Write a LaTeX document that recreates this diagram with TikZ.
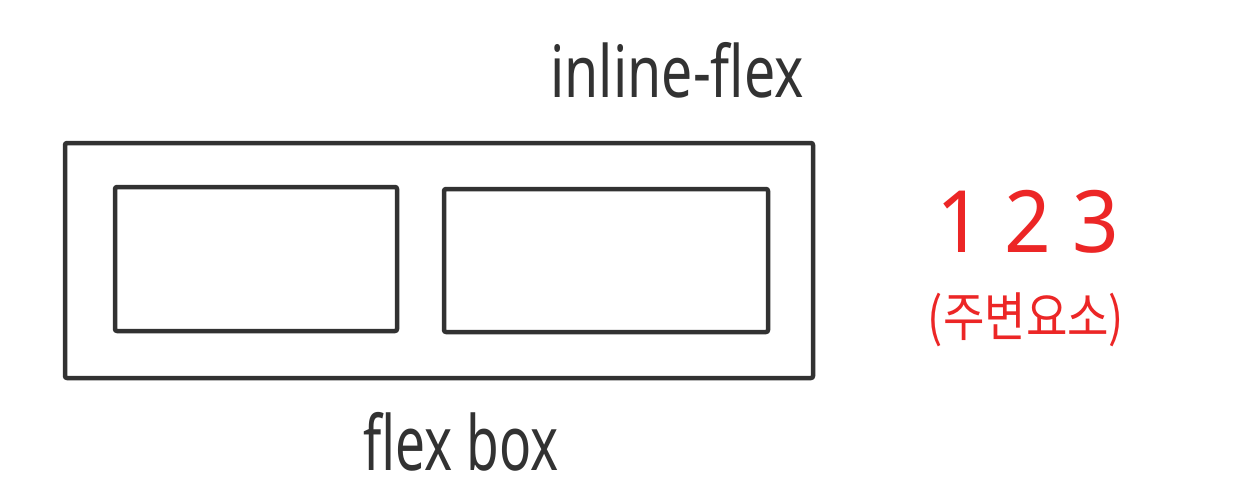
\documentclass[tikz,border=0pt]{standalone}
\usepackage{fontspec}
\usepackage{graphicx}
\setmainfont{Noto Sans}
\newfontfamily\krfont{Noto Sans CJK KR}
\definecolor{pencil}{RGB}{50,50,50}
\definecolor{redpen}{RGB}{236,38,38}
\tikzset{
  boxline/.style={draw=pencil, line width=4.5pt, line join=round, rounded corners=2pt},
  handtext/.style={text=pencil, inner sep=0pt},
  redtext/.style={text=redpen, inner sep=0pt}
}
\begin{document}
\begin{tikzpicture}[x=1pt,y=-1pt]
\useasboundingbox (0,0) rectangle (1252,501);
\fill[white] (0,0) rectangle (1252,501);
\draw[boxline] (65,143) rectangle (813,378);
\draw[boxline] (115,187) rectangle (397,331);
\draw[boxline] (444,189) rectangle (768,332);
\node[handtext] (inl) at (677,70) {\scalebox{0.77}[1]{\fontsize{72}{80}\selectfont inline-flex}};
\node[handtext] (fb) at (461,442) {\scalebox{0.7}[1]{\fontsize{76}{84}\selectfont flex box}};
\node[redtext] (nums) at (1028,222) {\scalebox{0.95}[1]{\fontsize{86}{96}\selectfont 1 2 3}};
\node[redtext] (kr) at (1026,320) {\scalebox{0.85}[1]{\krfont\fontsize{53}{60}\selectfont (주변요소)}};
\end{tikzpicture}
\end{document}
